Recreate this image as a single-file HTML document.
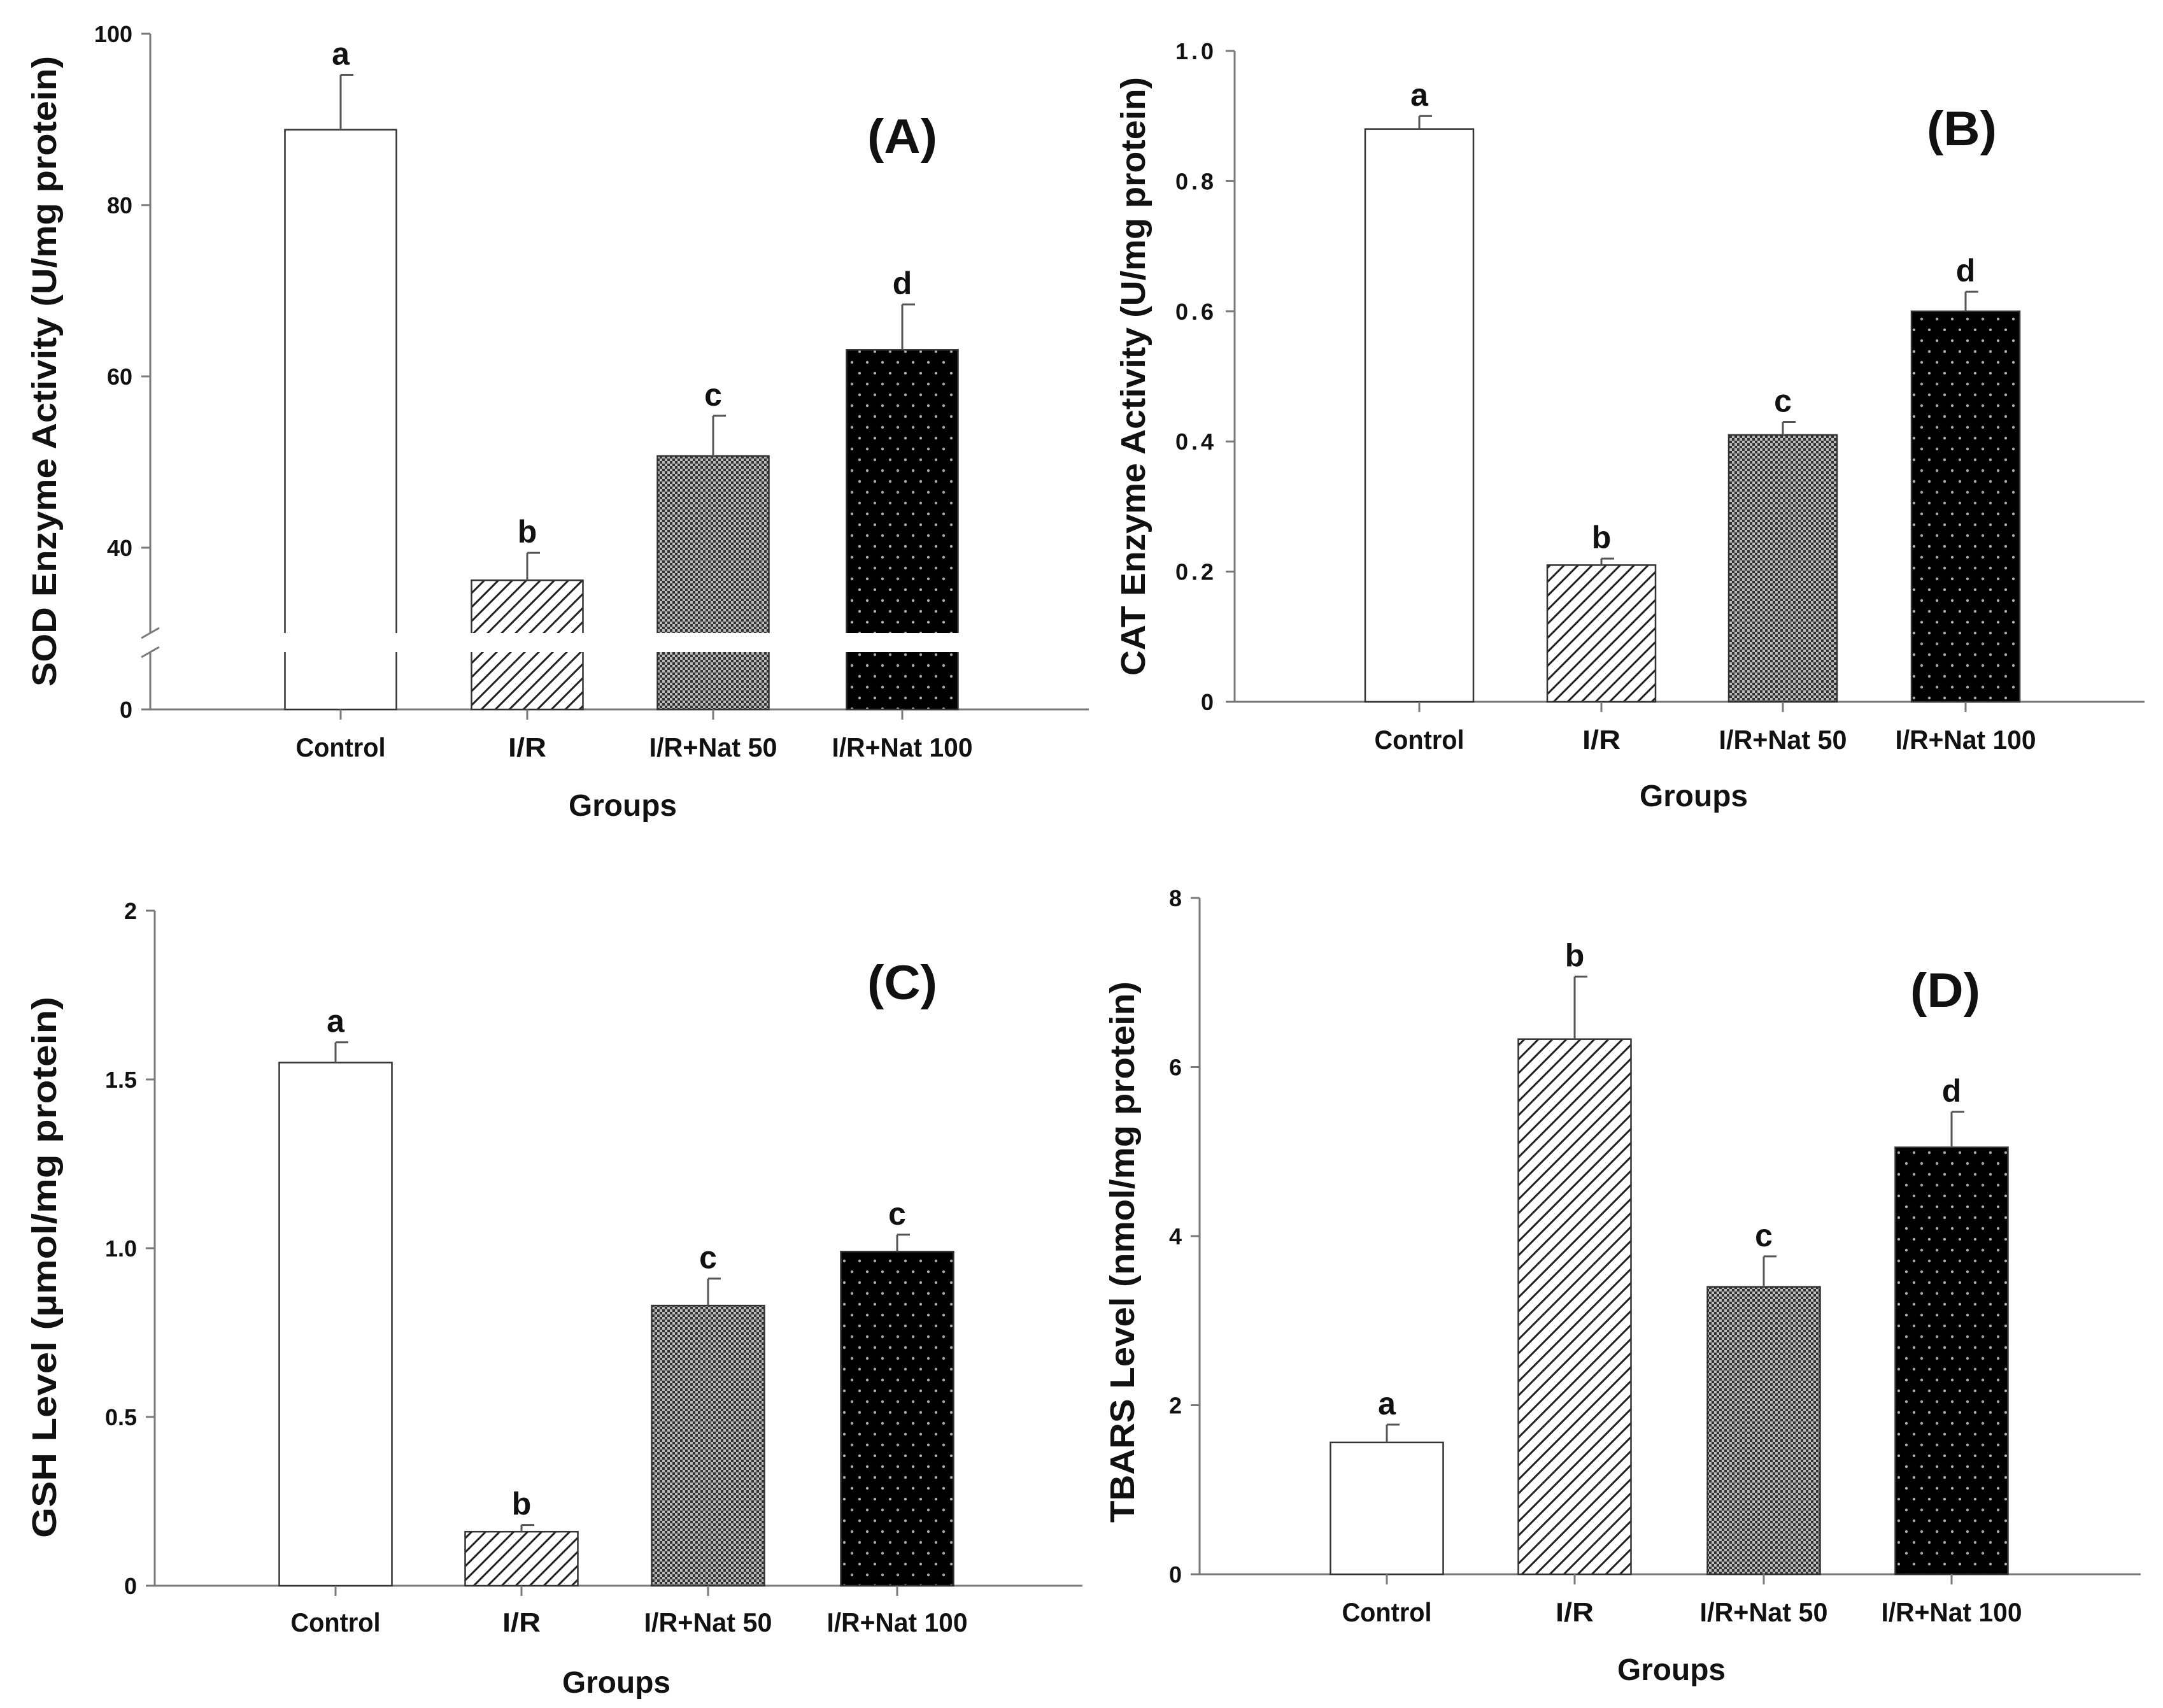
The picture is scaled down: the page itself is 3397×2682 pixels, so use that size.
<!DOCTYPE html>
<html><head><meta charset="utf-8"><style>
html,body{margin:0;padding:0;background:#fff;}
svg{display:block;}
text{font-family:"Liberation Sans",Arial,sans-serif;font-weight:bold;fill:#111;}
</style></head>
<body>
<svg id="fig" width="3397" height="2682" viewBox="0 0 3397 2682" xmlns="http://www.w3.org/2000/svg">
<defs>
<pattern id="hatch" patternUnits="userSpaceOnUse" width="22" height="22">
<rect width="22" height="22" fill="#fff"/>
<path d="M-5,27 L27,-5 M-5,5 L5,-5 M17,27 L27,17" stroke="#222" stroke-width="3"/>
</pattern>
<pattern id="cross" patternUnits="userSpaceOnUse" width="8" height="8">
<rect width="8" height="8" fill="#bbb"/>
<rect x="0" y="0" width="4" height="4" fill="#333"/>
<rect x="4" y="4" width="4" height="4" fill="#333"/>
</pattern>
<pattern id="dots" patternUnits="userSpaceOnUse" width="24" height="34">
<rect width="24" height="34" fill="#000"/>
<circle cx="6" cy="8" r="2.2" fill="#aaa"/>
<circle cx="18" cy="25" r="2.2" fill="#aaa"/>
</pattern>
</defs>
</svg>
<script>
const categories = ["Control", "I/R", "I/R+Nat 50", "I/R+Nat 100"];
const sigLetters = ["a","b","c","d"];
const sodValues = [88.8, 36.2, 50.7, 63.1];
const sodErrors = [6.4, 3.2, 4.7, 5.3];
const sodTicks = [0, 40, 60, 80, 100];
const catValues = [0.88, 0.21, 0.41, 0.60];
const catErrors = [0.02, 0.01, 0.02, 0.03];
const catTicks = [0, 0.2, 0.4, 0.6, 0.8, 1.0];
const catTickLabels = ["0", "0.2", "0.4", "0.6", "0.8", "1.0"];
const gshValues = [1.55, 0.16, 0.83, 0.99];
const gshErrors = [0.06, 0.02, 0.08, 0.05];
const gshLetters = ["a","b","c","c"];
const gshTicks = [0, 0.5, 1.0, 1.5, 2];
const gshTickLabels = ["0", "0.5", "1.0", "1.5", "2"];
const tbarsValues = [1.56, 6.33, 3.40, 5.05];
const tbarsErrors = [0.21, 0.74, 0.36, 0.42];
const tbarsTicks = [0, 2, 4, 6, 8];

const svg = document.getElementById('fig');
const NS = "http://www.w3.org/2000/svg";
function mk(tag, attrs, parent){
  const e = document.createElementNS(NS, tag);
  for (const k in attrs) e.setAttribute(k, attrs[k]);
  (parent||svg).appendChild(e);
  return e;
}
const fills = ["#fff", "url(#hatch)", "url(#cross)", "url(#dots)"];
const AX = "#7a7a7a";

function panel(p){
  const g = mk('g', {});
  
  
  const y = p.yScale;
  // axes
  const ya = mk('line', {x1:p.ax, y1:p.yTop, x2:p.ax, y2:p.y0, stroke:AX, 'stroke-width':3}, g);
  
  
  const xa = mk('line', {x1:p.ax, y1:p.y0, x2:p.axEnd, y2:p.y0, stroke:AX, 'stroke-width':3}, g);
  
  
  // y ticks
  p.ticks.forEach((t,i)=>{
    const ty = y(t);
    mk('line', {x1:p.ax-14, y1:ty, x2:p.ax, y2:ty, stroke:AX, 'stroke-width':3}, g);
    const tl = mk('text', {x:p.ax-28, y:ty+13, 'text-anchor':'end', 'font-size':p.tickFont||36, 'letter-spacing':p.tickSpacing||0}, g);
    tl.textContent = p.tickLabels ? p.tickLabels[i] : String(t);
    
    
  });
  // bars
  p.values.forEach((v,i)=>{
    const cx = p.centers[i], w = p.barW;
    const top = y(v);
    const bar = mk('rect', {x:cx-w/2, y:top, width:w, height:p.y0-top, fill:fills[i], stroke:"#333", 'stroke-width':2.5}, g);
    
    
    const et = y(v + p.errors[i]);
    const eb = mk('path', {d:`M${cx},${top} L${cx},${et} M${cx},${et} L${cx+20},${et}`, stroke:"#555", 'stroke-width':3, fill:'none'}, g);
    
    
    const lt = mk('text', {x:cx, y:et-16, 'text-anchor':'middle', 'font-size':50}, g);
    lt.textContent = p.letters[i];
    
    
    mk('line', {x1:cx, y1:p.y0, x2:cx, y2:p.y0+16, stroke:AX, 'stroke-width':3}, g);
    const cl = mk('text', {x:cx, y:p.catY, 'text-anchor':'middle', 'font-size':42, textLength:Math.round(categories[i].length*20.1), lengthAdjust:'spacingAndGlyphs'}, g);
    cl.textContent = categories[i];
    
    
  });
  if (p.breakTop){
    // axis break gap
    mk('rect', {x:p.ax-30, y:p.breakTop, width:p.axEnd-p.ax+30, height:p.breakBot-p.breakTop, fill:'#fff'}, g);
    const br = mk('path', {d:`M${p.ax-14},${p.breakTop+8} L${p.ax+14},${p.breakTop-8} M${p.ax-14},${p.breakBot+8} L${p.ax+14},${p.breakBot-8}`, stroke:AX, 'stroke-width':3}, g);
    
    
  }
  const gx = mk('text', {x:p.groupsX, y:p.groupsY, 'text-anchor':'middle', 'font-size':48, textLength:170, lengthAdjust:'spacingAndGlyphs'}, g);
  gx.textContent = 'Groups';
  
  
  const yt = mk('text', {x:0, y:0, 'text-anchor':'middle', 'font-size':54, transform:`translate(${p.titleX},${p.titleY}) rotate(-90)`, textLength:p.titleLen, lengthAdjust:'spacingAndGlyphs'}, g);
  yt.textContent = p.title;
  
  
  const pl = mk('text', {x:p.labX, y:p.labY+26, 'text-anchor':'middle', 'font-size':76, textLength:110, lengthAdjust:'spacingAndGlyphs'}, g);
  pl.textContent = p.panelLabel;
  
  
}

// Panel A (broken axis)
function yA(v){ return v >= 30 ? 860 - (v-40)*13.45 : 1114 - v*(90/30); }
panel({name:'panel-a-sod', ax:236, axEnd:1710, y0:1114, yTop:53, yScale:yA, ticks:sodTicks,
  values:sodValues, errors:sodErrors, letters:sigLetters, centers:[535,828,1120,1417], barW:175,
  catY:1188, groupsX:978, groupsY:1281, title:'SOD Enzyme Activity (U/mg protein)', titleX:88, titleY:583, titleLen:990,
  labX:1417, labY:214, panelLabel:'(A)', breakTop:994, breakBot:1024});
// Panel B
function yB(v){ return 1102 - v*1022; }
panel({name:'panel-b-cat', ax:1939, axEnd:3368, y0:1102, yTop:80, yScale:yB, ticks:catTicks, tickLabels:catTickLabels, tickSpacing:5,
  values:catValues, errors:catErrors, letters:sigLetters, centers:[2229,2515,2800,3087], barW:170,
  catY:1176, groupsX:2660, groupsY:1266, title:'CAT Enzyme Activity (U/mg protein)', titleX:1798, titleY:591, titleLen:940,
  labX:3081, labY:202, panelLabel:'(B)'});
// Panel C
function yC(v){ return 2490 - v*530; }
panel({name:'panel-c-gsh', ax:243, axEnd:1700, y0:2490, yTop:1430, yScale:yC, ticks:gshTicks, tickLabels:gshTickLabels,
  values:gshValues, errors:gshErrors, letters:gshLetters, centers:[527,819,1112,1409], barW:177,
  catY:2562, groupsX:968, groupsY:2658, title:'GSH Level (µmol/mg protein)', titleX:88, titleY:1990, titleLen:850,
  labX:1417, labY:1543, panelLabel:'(C)'});
// Panel D
function yD(v){ return 2472 - v*132.75; }
panel({name:'panel-d-tbars', ax:1884, axEnd:3362, y0:2472, yTop:1410, yScale:yD, ticks:tbarsTicks,
  values:tbarsValues, errors:tbarsErrors, letters:sigLetters, centers:[2178,2473,2770,3065], barW:177,
  catY:2546, groupsX:2625, groupsY:2638, title:'TBARS Level (nmol/mg protein)', titleX:1781, titleY:1966, titleLen:850,
  labX:3055, labY:1555, panelLabel:'(D)'});
</script>
</body></html>
